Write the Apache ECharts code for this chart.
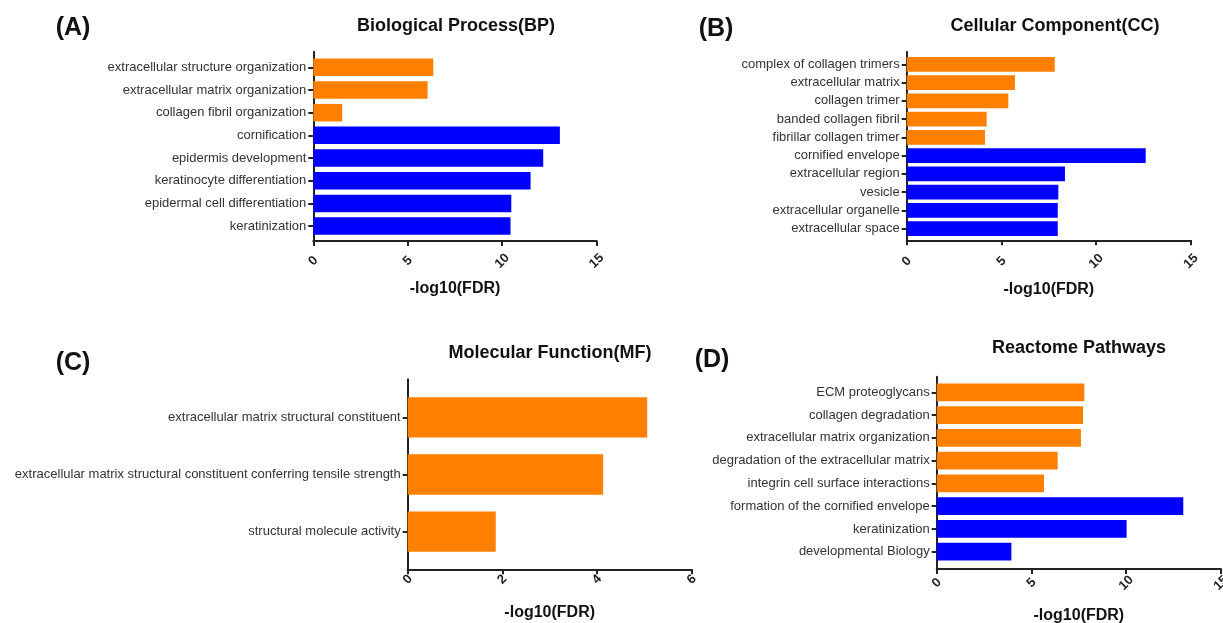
<!DOCTYPE html>
<html>
<head>
<meta charset="utf-8">
<title>GO and Reactome enrichment</title>
<script src="https://cdn.jsdelivr.net/npm/echarts@6/dist/echarts.min.js"></script>
<style>
  html, body { margin: 0; padding: 0; background: #fff; }
  #chart { width: 1223px; height: 623px; }
</style>
</head>
<body>
<div id="chart"></div>
<script>
// ---- data: -log10(FDR) for each enriched term ----
const bpTerms = ['extracellular structure organization', 'extracellular matrix organization', 'collagen fibril organization',
  'cornification', 'epidermis development', 'keratinocyte differentiation', 'epidermal cell differentiation', 'keratinization'];
const bpValues = [6.35, 6.05, 1.53, 13.05, 12.17, 11.5, 10.48, 10.44];
const bpGroups = ['up', 'up', 'up', 'down', 'down', 'down', 'down', 'down'];

const ccTerms = ['complex of collagen trimers', 'extracellular matrix', 'collagen trimer', 'banded collagen fibril',
  'fibrillar collagen trimer', 'cornified envelope', 'extracellular region', 'vesicle', 'extracellular organelle', 'extracellular space'];
const ccValues = [7.81, 5.71, 5.36, 4.22, 4.13, 12.61, 8.35, 8.0, 7.97, 7.97];
const ccGroups = ['up', 'up', 'up', 'up', 'up', 'down', 'down', 'down', 'down', 'down'];

const mfTerms = ['extracellular matrix structural constituent',
  'extracellular matrix structural constituent conferring tensile strength', 'structural molecule activity'];
const mfValues = [5.06, 4.13, 1.86];
const mfGroups = ['up', 'up', 'up'];

const rpTerms = ['ECM proteoglycans', 'collagen degradation', 'extracellular matrix organization',
  'degradation of the extracellular matrix', 'integrin cell surface interactions',
  'formation of the cornified envelope', 'keratinization', 'developmental Biology'];
const rpValues = [7.79, 7.72, 7.61, 6.38, 5.66, 13.01, 10.02, 3.94];
const rpGroups = ['up', 'up', 'up', 'up', 'up', 'down', 'down', 'down'];

const panelTitles = ['Biological Process(BP)', 'Cellular Component(CC)', 'Molecular Function(MF)', 'Reactome Pathways'];
const panelLetters = ['(A)', '(B)', '(C)', '(D)'];
const axisName = '-log10(FDR)';

// ---- styling / layout ----
const groupColor = { up: '#FF8000', down: '#0000FF' };
const FONT = '"Liberation Sans", Arial, Helvetica, sans-serif';
const AXIS_COLOR = '#222';

// frame = outer axis box, bars = band area for the categories
const layouts = [
  { terms: bpTerms, values: bpValues, groups: bpGroups, max: 15, interval: 5,
    left: 313.3, right: 596.7, frameTop: 51.7, frameBottom: 241, barTop: 56, barBottom: 237.4, barWidth: 17.5,
    title: [456, 27], letter: [73, 30], nameGap: 40, tickMargin: 20 },
  { terms: ccTerms, values: ccValues, groups: ccGroups, max: 15, interval: 5,
    left: 906.7, right: 1191, frameTop: 51.7, frameBottom: 240.3, barTop: 55.2, barBottom: 237.8, barWidth: 14.7,
    title: [1055, 27], letter: [716, 31], nameGap: 41, tickMargin: 21 },
  { terms: mfTerms, values: mfValues, groups: mfGroups, max: 6, interval: 2,
    left: 407.7, right: 691.7, frameTop: 379.3, frameBottom: 569.3, barTop: 388.7, barBottom: 560.3, barWidth: 40.3,
    title: [550, 354], letter: [73, 365], nameGap: 35, tickMargin: 10 },
  { terms: rpTerms, values: rpValues, groups: rpGroups, max: 15, interval: 5,
    left: 936.7, right: 1221, frameTop: 376.7, frameBottom: 569, barTop: 380.9, barBottom: 563.1, barWidth: 17.7,
    title: [1079, 349], letter: [712, 362], nameGap: 39, tickMargin: 14 }
];

const grid = [], xAxis = [], yAxis = [], series = [], title = [];

layouts.forEach((p, i) => {
  const w = p.right - p.left;
  const frameIdx = grid.length;
  grid.push({ left: p.left, top: p.frameTop, width: w, height: p.frameBottom - p.frameTop,
    containLabel: false, outerBoundsMode: 'none' });
  const barIdx = grid.length;
  grid.push({ left: p.left, top: p.barTop, width: w, height: p.barBottom - p.barTop,
    containLabel: false, outerBoundsMode: 'none' });

  // visible value axis on the frame grid
  xAxis.push({
    type: 'value', gridIndex: frameIdx, min: 0, max: p.max, interval: p.interval,
    axisLine: { show: true, lineStyle: { color: AXIS_COLOR, width: 2 } },
    axisTick: { show: true, length: 5, lineStyle: { color: AXIS_COLOR, width: 2 } },
    axisLabel: { rotate: 45, margin: p.tickMargin, align: 'center', verticalAlign: 'middle',
      fontFamily: FONT, fontSize: 13, fontWeight: 'bold', color: '#222' },
    splitLine: { show: false },
    name: axisName, nameLocation: 'middle', nameGap: p.nameGap,
    nameTextStyle: { fontFamily: FONT, fontSize: 16, fontWeight: 'bold', color: '#111' }
  });
  yAxis.push({
    type: 'value', gridIndex: frameIdx,
    axisLine: { show: true, lineStyle: { color: AXIS_COLOR, width: 2 } },
    axisTick: { show: false }, axisLabel: { show: false }, splitLine: { show: false }
  });

  // bar grid: hidden value axis with the same scale, category axis with the term labels
  xAxis.push({ type: 'value', gridIndex: barIdx, min: 0, max: p.max, show: false });
  yAxis.push({
    type: 'category', gridIndex: barIdx, data: p.terms, inverse: true,
    axisLine: { show: false },
    axisTick: { show: true, alignWithLabel: true, length: 5, lineStyle: { color: AXIS_COLOR, width: 2 } },
    axisLabel: { margin: 7, fontFamily: FONT, fontSize: 13, color: '#333' },
    splitLine: { show: false }
  });

  series.push({
    type: 'bar', xAxisIndex: barIdx, yAxisIndex: barIdx, barWidth: p.barWidth,
    data: p.values.map((v, k) => ({ value: v, itemStyle: { color: groupColor[p.groups[k]] } })),
    silent: true, animation: false
  });

  title.push({
    text: panelTitles[i], left: p.title[0], top: p.title[1] - 10, textAlign: 'center',
    textStyle: { fontFamily: FONT, fontSize: 18, fontWeight: 'bold', color: '#111' }, padding: 0
  });
  title.push({
    text: panelLetters[i], left: p.letter[0], top: p.letter[1] - 14, textAlign: 'center',
    textStyle: { fontFamily: FONT, fontSize: 25, fontWeight: 'bold', color: '#111' }, padding: 0
  });
});

const chart = echarts.init(document.getElementById('chart'), null, { renderer: 'canvas' });
chart.setOption({
  backgroundColor: '#fff',
  animation: false,
  title, grid, xAxis, yAxis, series
});
</script>
</body>
</html>
